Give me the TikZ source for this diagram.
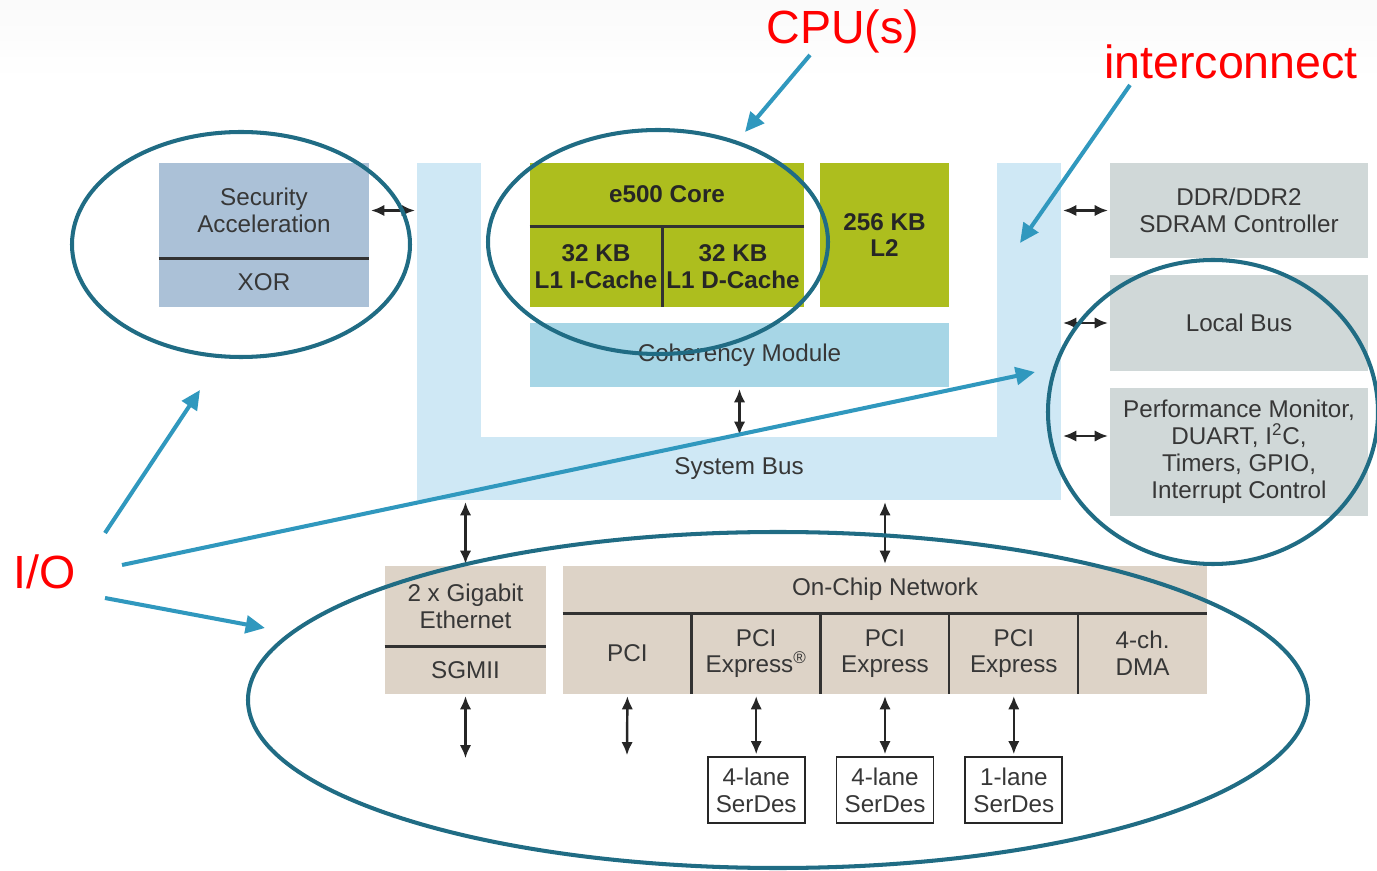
\documentclass[tikz,border=0pt]{standalone}
\usepackage{fontspec}
\setmainfont{Liberation Sans}
\usetikzlibrary{arrows.meta}

\definecolor{busblue}{RGB}{207,232,245}
\definecolor{cohblue}{RGB}{167,214,230}
\definecolor{coregreen}{RGB}{173,190,30}
\definecolor{secblue}{RGB}{171,193,215}
\definecolor{perigray}{RGB}{208,216,216}
\definecolor{iotan}{RGB}{221,211,199}
\definecolor{ringteal}{RGB}{32,108,132}
\definecolor{noteblue}{RGB}{48,152,190}
\definecolor{txtgray}{RGB}{55,55,55}
\definecolor{divgray}{RGB}{50,50,50}

\def\sc{.02cm}
\def\txtsz{\fontsize{13.8}{15.3}\selectfont}
\def\lblsz{\fontsize{26.5}{30}\selectfont}

\begin{document}
\begin{tikzpicture}[x=\sc, y=-\sc,
  cell/.style 2 args={minimum width=#1*\sc, minimum height=#2*\sc, inner sep=0pt,
    align=center, font=\txtsz, text=txtgray},
  bcell/.style 2 args={cell={#1}{#2}, fill=coregreen, font=\txtsz\bfseries, text=black!85},
  sdbox/.style={cell={97}{66}, draw=black!85, line width=1.1pt, fill=white},
  divline/.style={draw=divgray, line width=1.5pt},
  biarrow/.style={{Latex[length=7.5pt,width=6.5pt]}-{Latex[length=7.5pt,width=6.5pt]},
    line width=1.4pt, draw=black!85, shorten <=1pt, shorten >=1pt},
  ring/.style={draw=ringteal, line width=2.3pt},
  note/.style={-{Triangle[length=11pt,width=10pt]}, draw=noteblue, line width=2.3pt},
  lbl/.style={text=red, font=\lblsz, inner sep=0pt}]
\useasboundingbox (0,0) rectangle (1377,871);
\shade [top color=black!2, bottom color=white] (0,0) rectangle (1377,80);

% system bus
\node [cell={64}{337}, fill=busblue] (busL) at (449,331.5) {};
\node [cell={64}{337}, fill=busblue] (busR) at (1029,331.5) {};
\node [cell={644}{63}, fill=busblue] (busB) at (739,468.5) {System Bus};

% security
\node [cell={210}{95}, fill=secblue] (secT) at (264,210.5) {Security\\Acceleration};
\node [cell={210}{49}, fill=secblue] (secX) at (264,282.5) {XOR};
\draw [divline] (secT.south west) -- (secT.south east);
\draw [biarrow] (secT.east) -- (busL.west |- secT.east);

% core
\node [bcell={274}{63}] (coreT) at (667,194.5) {e500 Core};
\node [bcell={132}{81}] (icache) at (596,266.5) {32 KB\\L1 I-Cache};
\node [bcell={142}{81}] (dcache) at (733,266.5) {32 KB\\L1 D-Cache};
\draw [divline] (coreT.south west) -- (coreT.south east);
\draw [divline] (icache.north east) -- (icache.south east);
\node [bcell={129}{144}] (ltwo) at (884.5,235) {256 KB\\L2};
\node [cell={419}{64}, fill=cohblue] (coh) at (739.5,355) {Coherency Module};
\draw [biarrow] (coh.south) -- (coh.south |- busB.north);

% peripherals
\node [cell={258}{95}, fill=perigray] (ddr) at (1239,210.5) {DDR/DDR2\\SDRAM Controller};
\node [cell={258}{96}, fill=perigray] (lbus) at (1239,323) {Local Bus};
\node [cell={258}{128}, fill=perigray] (perf) at (1239,452)
  {Performance Monitor,\\DUART, I\textsuperscript{2}C,\\Timers, GPIO,\\Interrupt Control};
\draw [biarrow] (busR.east |- ddr.west) -- (ddr.west);
\draw [biarrow] (busR.east |- lbus.west) -- (lbus.west);
\draw [biarrow] ([yshift=.32cm]perf.west -| busR.east) -- ([yshift=.32cm]perf.west);

% ethernet
\node [cell={161}{80}, fill=iotan] (ethT) at (465.5,606) {2 x Gigabit\\Ethernet};
\node [cell={161}{48}, fill=iotan] (ethS) at (465.5,670) {SGMII};
\draw [divline] (ethT.south west) -- (ethT.south east);
\draw [biarrow] (ethT.north) -- (ethT.north |- busB.south);
\coordinate (ethEnd) at (465.5,760);
\draw [biarrow] (ethS.south) -- (ethEnd);

% on-chip network
\node [cell={644}{47}, fill=iotan] (ocnT) at (885,589.5) {On-Chip Network};
\foreach \i/\t in {0/PCI, 1/{PCI\\Express\textsuperscript{\textregistered}}, 2/{PCI\\Express},
    3/{PCI\\Express}, 4/{4-ch.\\DMA}}
  \node [cell={128.8}{81}, fill=iotan] (cell\i) at (627.4+\i*128.8,653.5) {\t};
\draw [divline] (ocnT.south west) -- (ocnT.south east);
\foreach \i in {1,...,4}
  \draw [divline] (cell\i.north west) -- (cell\i.south west);
\draw [biarrow] (ocnT.north) -- (ocnT.north |- busB.south);
\coordinate (pciEnd) at (627,757);
\draw [biarrow] (cell0.south) -- (pciEnd);
\foreach \i/\t in {1/4-lane, 2/4-lane, 3/1-lane} {
  \node [sdbox] (sd\i) at (cell\i |- 0,790) {\t\\SerDes};
  \draw [biarrow] (cell\i.south) -- (sd\i.north);
}

% rings
\draw [ring] (241,244.5) ellipse [x radius=169, y radius=112.5];
\draw [ring] (658,242) ellipse [x radius=170, y radius=112];
\draw [ring] (1213,412) ellipse [x radius=165, y radius=152];
\draw [ring] (778,700) ellipse [x radius=530, y radius=168];

% labels
\node [lbl] (cpuL) at (843,31) {CPU(s)};
\node [lbl] (interL) at (1231,62) {interconnect};
\node [lbl] (ioL) at (45,572) {I/O};
\coordinate (cpuTip) at (745,132);
\coordinate (interTip) at (1020,243);
\coordinate (ioTipA) at (200,390);
\coordinate (ioTipB) at (1035,372);
\coordinate (ioTipC) at (265,628);
\draw [note] ([shift={(-33,24)}]cpuL.center) -- (cpuTip);
\draw [note] ([shift={(-101,23)}]interL.center) -- (interTip);
\draw [note] ([shift={(60,-39)}]ioL.center) -- (ioTipA);
\draw [note] ([shift={(77,-7)}]ioL.center) -- (ioTipB);
\draw [note] ([shift={(60,26)}]ioL.center) -- (ioTipC);
\end{tikzpicture}
\end{document}
